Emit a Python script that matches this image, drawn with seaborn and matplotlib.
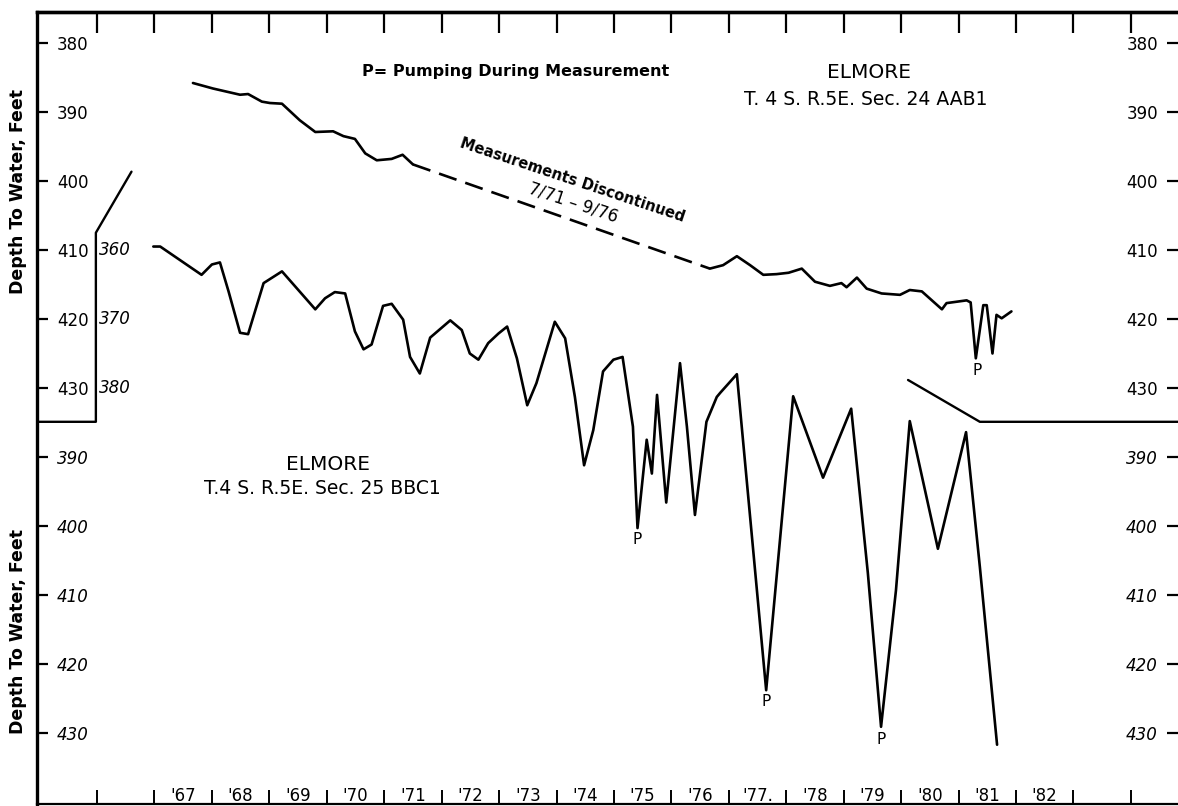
import numpy as np
import matplotlib
matplotlib.use("Agg")
import matplotlib.pyplot as plt
import seaborn as sns

# --- well 4S 5E 24AAB1 (upper hydrograph), depth to water in feet ---
aab_yr_a = [1967.67, 1968.02, 1968.49, 1968.63, 1968.87, 1969.01, 1969.22, 1969.53, 1969.80,
            1970.11, 1970.29, 1970.49, 1970.67, 1970.87, 1971.13, 1971.32, 1971.50]
aab_ft_a = [385.8, 386.6, 387.5, 387.4, 388.5, 388.7, 388.8, 391.2, 392.9,
            392.8, 393.5, 393.9, 396.0, 397.0, 396.8, 396.2, 397.6]
aab_yr_b = [1976.67, 1976.90, 1977.14, 1977.37, 1977.60, 1977.83, 1978.04, 1978.27, 1978.50, 1978.76,
            1978.96, 1979.05, 1979.23, 1979.40, 1979.66, 1979.98, 1980.15, 1980.36, 1980.71, 1980.79,
            1981.14, 1981.21, 1981.30, 1981.43, 1981.49, 1981.59, 1981.66, 1981.75, 1981.92]
aab_ft_b = [412.7, 412.2, 410.9, 412.2, 413.6, 413.5, 413.3, 412.7, 414.6, 415.2,
            414.8, 415.4, 414.0, 415.6, 416.3, 416.5, 415.8, 416.0, 418.6, 417.7,
            417.3, 417.6, 425.7, 418.0, 418.0, 425.0, 419.4, 419.9, 418.9]

# --- well 4S 5E 25BBC1 (lower hydrograph) ---
bbc_yr = [1966.98, 1967.10, 1967.82, 1968.00, 1968.14, 1968.29, 1968.49, 1968.63, 1968.90, 1969.22,
          1969.80, 1969.97, 1970.14, 1970.32, 1970.49, 1970.64, 1970.78, 1970.98, 1971.13, 1971.33,
          1971.45, 1971.62, 1971.80, 1972.15, 1972.35, 1972.49, 1972.64, 1972.81, 1972.99, 1973.14,
          1973.31, 1973.49, 1973.65, 1973.97, 1974.15, 1974.32, 1974.48, 1974.64, 1974.81, 1974.99,
          1975.15, 1975.33, 1975.41, 1975.57, 1975.66, 1975.75, 1975.91, 1976.15, 1976.27, 1976.41,
          1976.61, 1976.79, 1976.85, 1977.14, 1977.65, 1978.12, 1978.64, 1979.13, 1979.42, 1979.65,
          1979.91, 1980.15, 1980.64, 1981.13, 1981.37, 1981.67]
bbc_ft = [359.5, 359.5, 363.6, 362.1, 361.8, 366.0, 372.0, 372.2, 364.8, 363.1,
          368.6, 367.0, 366.1, 366.3, 371.8, 374.4, 373.7, 368.1, 367.8, 370.1,
          375.5, 377.9, 372.7, 370.2, 371.6, 375.0, 375.9, 373.5, 372.1, 371.1,
          375.7, 382.5, 379.3, 370.4, 372.8, 381.3, 391.2, 386.1, 377.6, 375.9,
          375.5, 385.6, 400.3, 387.5, 392.4, 381.0, 396.6, 376.4, 385.6, 398.4,
          384.9, 381.3, 380.7, 378.0, 423.8, 381.2, 393.0, 383.0, 406.8, 429.1,
          409.3, 384.8, 403.3, 386.4, 405.9, 431.7]

# pumping marks: (year, depth)
p_aab_yr, p_aab_ft = [1981.33], [427.4]
p_bbc_yr = [1975.40, 1977.65, 1979.66]
p_bbc_ft = [402.0, 425.5, 430.9]

# hand drawn dividers between the two panels (upper-well feet)
div_left_x = [1964.95, 1965.98, 1965.98, 1966.60]
div_left_y = [434.9, 434.9, 407.5, 398.65]
div_right_x = [1980.12, 1981.37, 1984.82]
div_right_y = [428.84, 434.9, 434.9]

years = np.arange(1966, 1985)
year_pos = np.arange(1967.5, 1983.0, 1.0)
year_labels = ["'67", "'68", "'69", "'70", "'71", "'72", "'73", "'74", "'75", "'76",
               "'77.", "'78", "'79", "'80", "'81", "'82"]
aab_ticks = [380, 390, 400, 410, 420, 430]
bbc_ticks = [390, 400, 410, 420, 430]
inset_ticks = [360, 370, 380]

sns.set_style("white")
plt.rcParams['font.family'] = ['DejaVu Sans']
plt.rcParams.update({'text.color': 'black', 'axes.edgecolor': 'black',
                     'xtick.color': 'black', 'ytick.color': 'black',
                     'axes.labelcolor': 'black'})

W, H = 1178, 806
fig = plt.figure(figsize=(W / 100, H / 100), dpi=100)
ax = fig.add_axes([37 / W, 2 / H, (W - 37) / W, 792 / H])
ax.set_xlim(1964.955, 1984.82)
ax.set_ylim(490.29, 375.51)
ax2 = ax.twinx()
ax2.set_ylim(440.29, 325.51)

lw = 1.9
sns.lineplot(x=aab_yr_a, y=aab_ft_a, ax=ax, color='black', lw=lw, sort=False, estimator=None)
sns.lineplot(x=aab_yr_b, y=aab_ft_b, ax=ax, color='black', lw=lw, sort=False, estimator=None)
sns.lineplot(x=[aab_yr_a[-1], aab_yr_b[0]], y=[aab_ft_a[-1], aab_ft_b[0]], ax=ax,
             color='black', lw=lw, sort=False, estimator=None)
ax.lines[-1].set_dashes([7, 3.5])
sns.lineplot(x=bbc_yr, y=bbc_ft, ax=ax2, color='black', lw=lw, sort=False, estimator=None)

ax.plot(div_left_x, div_left_y, color='black', lw=1.7)
ax.plot(div_right_x, div_right_y, color='black', lw=1.7)

for x, y in zip(p_aab_yr, p_aab_ft):
    ax.text(x, y, "P", ha='center', va='center', fontsize=11)
for x, y in zip(p_bbc_yr, p_bbc_ft):
    ax2.text(x, y, "P", ha='center', va='center', fontsize=11)
for v in inset_ticks:
    ax2.text(1966.03, v, str(v), ha='left', va='center', fontsize=12, style='italic')

# annotations
ax.text(1970.61, 384.2, "P= Pumping During Measurement", ha='left', va='center',
        fontsize=11.5, fontweight='bold')
ax.text(1979.44, 384.35, "ELMORE", ha='center', va='center', fontsize=14.5)
ax.text(1979.39, 388.26, "T. 4 S. R.5E. Sec. 24 AAB1", ha='center', va='center', fontsize=13.5)
ax.text(1974.27, 399.86, "Measurements Discontinued", ha='center', va='center',
        fontsize=10.5, fontweight='bold', rotation=-18.5)
ax.text(1974.30, 403.2, "7/71 – 9/76", ha='center', va='center', fontsize=12, rotation=-18.5)
ax.text(1970.02, 441.16, "ELMORE", ha='center', va='center', fontsize=14.5)
ax.text(1969.93, 444.5, "T.4 S. R.5E. Sec. 25 BBC1", ha='center', va='center', fontsize=13.5)

fig.text(18 / W, 1 - 192 / H, "Depth To Water, Feet", rotation=90, ha='center', va='center',
         fontsize=12.5, fontweight='bold')
fig.text(18 / W, 1 - 632 / H, "Depth To Water, Feet", rotation=90, ha='center', va='center',
         fontsize=12.5, fontweight='bold')

# x axis: year boundaries as ticks, year names between them
ax.set_xticks(years)
ax.set_xticks(year_pos, labels=year_labels, minor=True)
ax.tick_params(axis='x', which='major', direction='in', length=10, width=1.4,
               bottom=True, top=False, labelbottom=False)
ax.tick_params(axis='x', which='minor', length=0, bottom=True, pad=-12.5, labelsize=12)
top = ax.secondary_xaxis('top')
top.set_xticks(years)
top.set_xticklabels([])
top.tick_params(direction='in', length=15, width=1.6)
top.spines['top'].set_linewidth(2.4)

# y axes: labels sit inside the frame
ax.set_yticks(aab_ticks)
ax.tick_params(axis='y', direction='in', length=8, width=1.6, left=True, right=True,
               labelleft=True, labelright=True, pad=-14.5, labelsize=12)
for t in ax.yaxis.get_major_ticks():
    t.label1.set_horizontalalignment('left')
    t.label2.set_horizontalalignment('right')
ax2.set_yticks(bbc_ticks)
ax2.tick_params(axis='y', direction='in', length=8, width=1.6, left=True, right=True,
                labelleft=True, labelright=True, pad=-14.5, labelsize=12)
for t in ax2.yaxis.get_major_ticks():
    t.label1.set_horizontalalignment('left')
    t.label2.set_horizontalalignment('right')
    t.label1.set_style('italic')
    t.label2.set_style('italic')

for s in ax2.spines.values():
    s.set_visible(False)
ax.spines['right'].set_visible(False)
ax.spines['left'].set_linewidth(2.4)
ax.spines['top'].set_linewidth(2.4)
ax.spines['bottom'].set_linewidth(1.6)
for a in (ax, ax2):
    a.set_xlabel("")
    a.set_ylabel("")

fig.savefig("out.png", dpi=100)
